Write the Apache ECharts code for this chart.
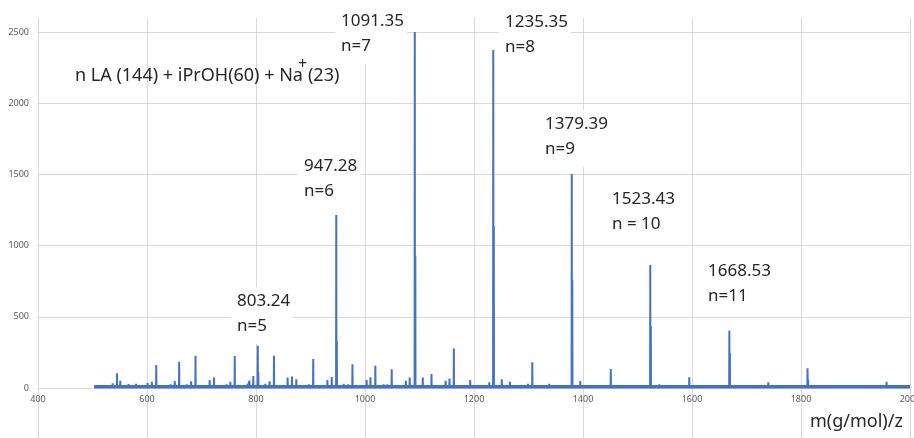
<!DOCTYPE html>
<html>
<head>
<meta charset="utf-8">
<script src="https://cdn.jsdelivr.net/npm/echarts@6/dist/echarts.min.js"></script>
<style>
  html, body { margin: 0; padding: 0; background: #ffffff; }
  #chart { width: 914px; height: 438px; }
</style>
</head>
<body>
<div id="chart"></div>
<script>
// Axis ticks
const xTicks = [400, 600, 800, 1000, 1200, 1400, 1600, 1800, 2000];
const yTicks = [0, 500, 1000, 1500, 2000, 2500];

// Centroided peaks: m/z and intensity
const peakMz = [
  507, 523, 530, 537, 545, 551, 559, 566, 572, 580, 587, 594, 601, 609, 617, 624, 631, 643, 651, 659,
  667, 673, 681, 689, 696, 704, 715, 723, 731, 738, 746, 753, 761, 768, 775, 784, 788, 795, 803.24, 804.24,
  810, 817, 825, 833, 840, 849, 858, 866, 874, 882, 889, 897, 905, 912, 922, 931, 939, 947.28, 948.28, 955,
  961, 969, 977, 985, 994, 1003, 1010, 1019, 1026, 1034, 1041, 1049, 1058, 1066, 1075, 1082, 1091.35, 1092.35, 1099, 1106,
  1114, 1122, 1130, 1140, 1148, 1155, 1163, 1171, 1178, 1185, 1193, 1200, 1212, 1220, 1228, 1235.35, 1236.35, 1243, 1251, 1258,
  1266, 1274, 1282, 1291, 1299, 1307, 1315, 1322, 1338, 1352, 1365, 1372, 1379.39, 1380.39, 1388, 1395, 1410, 1425, 1443, 1451,
  1467, 1482, 1496, 1516, 1523.43, 1524.43, 1540, 1555, 1571, 1588, 1595, 1612, 1640, 1660, 1668.53, 1669.53, 1685, 1712, 1740, 1757,
  1785, 1812, 1813, 1830, 1860, 1885, 1910, 1940, 1957, 1975
];
const peakIntensity = [
  20, 15, 15, 33, 103, 51, 18, 28, 22, 30, 20, 15, 35, 44, 161, 15, 12, 25, 49, 185,
  15, 25, 48, 227, 12, 15, 56, 73, 20, 15, 25, 44, 225, 15, 12, 25, 50, 84, 297, 110,
  15, 30, 48, 227, 12, 15, 73, 80, 61, 12, 15, 25, 204, 12, 15, 56, 77, 1215, 330, 15,
  30, 25, 166, 12, 15, 56, 75, 157, 12, 25, 25, 131, 12, 15, 50, 73, 2500, 930, 15, 73,
  15, 98, 12, 15, 50, 66, 278, 12, 20, 15, 56, 12, 12, 15, 40, 2374, 1140, 15, 62, 12,
  44, 12, 12, 15, 30, 180, 12, 10, 30, 10, 12, 18, 1503, 758, 12, 49, 15, 10, 15, 133,
  10, 10, 10, 12, 864, 430, 26, 10, 10, 12, 75, 10, 10, 12, 403, 245, 15, 10, 40, 10,
  10, 138, 60, 10, 10, 21, 10, 10, 44, 10
];
const baselineLevel = 8;
const scanStart = 503;
const scanEnd = 2000;

// Annotations
const peakMassLabels = ['803.24', '947.28', '1091.35', '1235.35', '1379.39', '1523.43', '1668.53'];
const peakNLabels = ['n=5', 'n=6', 'n=7', 'n=8', 'n=9', 'n = 10', 'n=11'];
const formulaMain = 'n LA (144) + iPrOH(60) + Na';
const formulaSup = '+';
const formulaTail = '(23)';
const xAxisTitle = 'm(g/mol)/z';

// Build the stick spectrum as one continuous trace along the baseline
const trace = [[scanStart, baselineLevel]];
peakMz.forEach((m, i) => {
  trace.push([m - 0.3, baselineLevel], [m, peakIntensity[i]], [m + 0.3, baselineLevel]);
});
trace.push([scanEnd, baselineLevel]);

const GRID = '#d9d9d9';
const TICK = '#595959';
const INK = '#262626';
const BLUE = '#4472C4';
const FONT = '"Noto Sans", "Open Sans", sans-serif';

// Measure text so the Na+ superscript sits right after the formula
function textWidth(str, font) {
  const ctx = document.createElement('canvas').getContext('2d');
  ctx.font = font;
  return ctx.measureText(str).width;
}
const formulaFont = '18px ' + FONT;
const formulaX = 75, formulaY = 67;
const mainW = textWidth(formulaMain, formulaFont);

// Annotation box placement (text top-left in px)
const annoPos = [
  [231, 287], [298, 152], [335, 7], [499, 8], [539, 110], [606, 185], [702, 257]
];

const graphics = [];
peakMassLabels.forEach((t, i) => {
  graphics.push({
    type: 'text',
    x: annoPos[i][0], y: annoPos[i][1],
    z: 50,
    style: {
      text: t + '\n' + peakNLabels[i],
      font: '17px ' + FONT,
      fill: INK,
      lineHeight: 25,
      backgroundColor: '#ffffff',
      padding: [2, 3, 5, 6]
    }
  });
});
graphics.push({
  type: 'text', x: formulaX, y: formulaY, z: 50,
  style: { text: formulaMain, font: formulaFont, fill: INK }
});
graphics.push({
  type: 'text', x: formulaX + mainW - 5, y: formulaY - 11, z: 50,
  style: { text: formulaSup, font: '16px ' + FONT, fill: INK }
});
graphics.push({
  type: 'text', x: formulaX + mainW + 5, y: formulaY, z: 50,
  style: { text: formulaTail, font: formulaFont, fill: INK }
});
graphics.push({
  type: 'text', x: 810, y: 413, z: 50,
  style: { text: xAxisTitle, font: '18px ' + FONT, fill: INK }
});

const xMin = xTicks[0], xMax = xTicks[xTicks.length - 1], xStep = xTicks[1] - xTicks[0];
const yMin = yTicks[0], yMax = yTicks[yTicks.length - 1], yStep = yTicks[1] - yTicks[0];

const chart = echarts.init(document.getElementById('chart'), null, { renderer: 'canvas' });
chart.setOption({
  animation: false,
  backgroundColor: '#ffffff',
  grid: [
    { left: 38, right: 4, top: 32, bottom: 50, containLabel: false, outerBoundsMode: 'none' },
    { left: 38, right: 4, top: 18, bottom: 0, containLabel: false, outerBoundsMode: 'none' }
  ],
  xAxis: [
    {
      type: 'value', gridIndex: 0, min: xMin, max: xMax, interval: xStep,
      axisLine: { show: true, lineStyle: { color: GRID, width: 1 } },
      axisTick: { show: false },
      splitLine: { show: false },
      axisLabel: {
        color: TICK, fontSize: 9, fontFamily: FONT, margin: 7,
        showMaxLabel: true, showMinLabel: true, formatter: v => String(v)
      }
    },
    {
      type: 'value', gridIndex: 1, min: xMin, max: xMax, interval: xStep,
      axisLine: { show: false }, axisTick: { show: false }, axisLabel: { show: false },
      splitLine: { show: true, showMinLine: true, showMaxLine: true, lineStyle: { color: GRID, width: 1 } }
    }
  ],
  yAxis: [
    {
      type: 'value', gridIndex: 0, min: yMin, max: yMax, interval: yStep,
      axisLine: { show: false }, axisTick: { show: false },
      splitLine: { show: true, lineStyle: { color: GRID, width: 1 } },
      axisLabel: { color: TICK, fontSize: 9, fontFamily: FONT, margin: 9, formatter: v => String(v) }
    },
    { type: 'value', gridIndex: 1, show: false, min: 0, max: 1 }
  ],
  series: [
    {
      type: 'line', xAxisIndex: 0, yAxisIndex: 0,
      data: [[scanStart, baselineLevel], [scanEnd, baselineLevel]],
      showSymbol: false, silent: true,
      lineStyle: { color: BLUE, width: 3.5 }
    },
    {
      type: 'line', xAxisIndex: 0, yAxisIndex: 0,
      data: trace,
      showSymbol: false, silent: true,
      lineStyle: { color: BLUE, width: 2 }
    }
  ],
  graphic: graphics
});
</script>
</body>
</html>
